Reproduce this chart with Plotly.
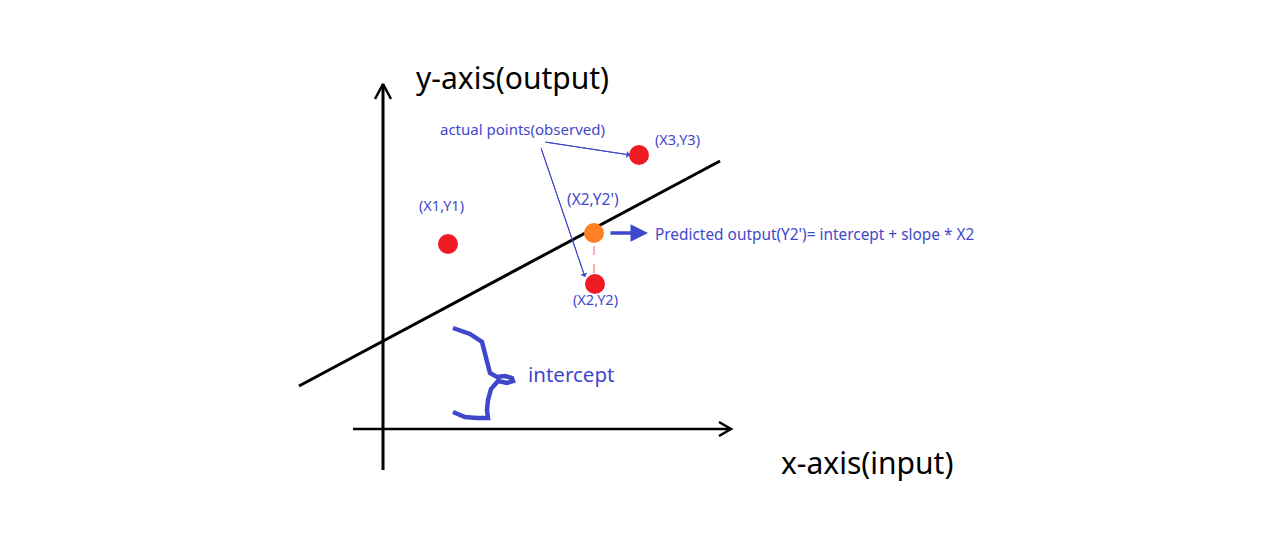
import plotly.graph_objects as go

# canvas is 1284 x 540, coordinates are in pixels (y grows downwards)
W, H = 1284, 540
OFF = 8  # page body margin
BLUE = "#3f48cc"

# axes of the sketch
y_axis_x = [383, 383]
y_axis_y = [470, 84]
y_head_x = [375, 383, 391]
y_head_y = [99, 84, 99]
x_axis_x = [353, 731]
x_axis_y = [429, 429]
x_head_x = [719, 731, 719]
x_head_y = [422, 429, 436]

# fitted line
line_x = [299, 720]
line_y = [386, 161]

# observed points
obs_x = [448, 639, 595]
obs_y = [244, 155, 284]
# predicted point
pred_x = [594]
pred_y = [233]

# residual (dashed)
res_x = [594, 594]
res_y = [246, 276]

# brace for intercept
brace_x = [453, 470, 482, 486, 490, 497, 505, 512, 513, 507, 498, 491, 488, 487, 488, 477, 465, 453]
brace_y = [328, 334, 342, 357, 373, 377, 376, 378, 381, 383, 381, 389, 400, 410, 418, 418, 417, 412]

# thin pointer arrows from the label
ptr1_x = [545, 630]
ptr1_y = [142, 155]
ptr2_x = [541, 585]
ptr2_y = [148, 277]

# thick arrow to formula
big_x = [609, 648]
big_y = [233, 233]

labels = [
    ("y-axis(output)", 414, 77, 30, "black"),
    ("x-axis(input)", 779, 462, 30, "black"),
    ("actual points(observed)", 438, 129, 15, BLUE),
    ("(X3,Y3)", 653, 139, 14.5, BLUE),
    ("(X1,Y1)", 417, 205, 14.5, BLUE),
    ("(X2,Y2')", 565, 199, 15.5, BLUE),
    ("(X2,Y2)", 571, 299, 14.5, BLUE),
    ("Predicted output(Y2')= intercept + slope * X2", 653, 234, 15.4, BLUE),
    ("intercept", 526, 374, 20.5, BLUE),
]

fig = go.Figure()

def add_line(xs, ys, color, width, dash="solid"):
    fig.add_trace(go.Scatter(x=xs, y=ys, mode="lines",
                             line=dict(color=color, width=width, dash=dash),
                             hoverinfo="skip", showlegend=False))

add_line(y_axis_x, y_axis_y, "black", 3)
add_line(y_head_x, y_head_y, "black", 2.5)
add_line(x_axis_x, x_axis_y, "black", 2.5)
add_line(x_head_x, x_head_y, "black", 2.5)
add_line(line_x, line_y, "black", 3)
add_line(res_x, res_y, "#f0787c", 1.2, "dash")
add_line(brace_x, brace_y, BLUE, 4.5)
add_line(ptr1_x, ptr1_y, BLUE, 1)
add_line(ptr2_x, ptr2_y, BLUE, 1)

fig.add_trace(go.Scatter(x=obs_x, y=obs_y, mode="markers",
                         marker=dict(color="#ed1c24", size=20),
                         hoverinfo="skip", showlegend=False))
fig.add_trace(go.Scatter(x=pred_x, y=pred_y, mode="markers",
                         marker=dict(color="#ff7f27", size=20),
                         hoverinfo="skip", showlegend=False))

# arrow heads
for xs, ys, w, head in [(ptr1_x, ptr1_y, 1, 1), (ptr2_x, ptr2_y, 1, 1), (big_x, big_y, 3.5, 2)]:
    fig.add_annotation(x=xs[1], y=ys[1], ax=xs[0], ay=ys[0],
                       xref="x", yref="y", axref="x", ayref="y",
                       text="", showarrow=True, arrowhead=head,
                       arrowwidth=w, arrowsize=1.2 if head == 1 else 1,
                       arrowcolor=BLUE)

for txt, x, y, size, col in labels:
    fig.add_annotation(x=x, y=y, text=txt, showarrow=False,
                       xanchor="left", yanchor="middle",
                       font=dict(family="Noto Sans", size=size, color=col))

fig.update_xaxes(range=[OFF, W + OFF], visible=False)
fig.update_yaxes(range=[H + OFF, OFF], visible=False)
fig.update_layout(width=W, height=H, margin=dict(l=0, r=0, t=0, b=0),
                  plot_bgcolor="white", paper_bgcolor="white")

fig.write_html("out.html")
